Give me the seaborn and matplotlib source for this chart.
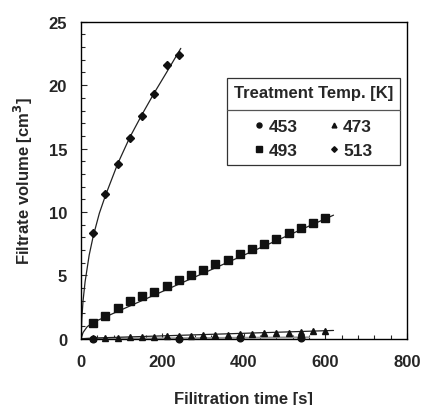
import numpy as np
import pandas as pd
import matplotlib
matplotlib.use("Agg")
import matplotlib.pyplot as plt
from matplotlib.lines import Line2D
import seaborn as sns

# measured points (filtration time [s], filtrate volume [cm3])
t_453 = [30, 240, 390, 540]
v_453 = [0.0, 0.02, 0.05, 0.08]

t_473 = [30, 60, 90, 120, 150, 180, 210, 240, 270, 300,
         330, 360, 390, 420, 450, 480, 510, 540, 570, 600]
v_473 = [0.05, 0.07, 0.10, 0.13, 0.15, 0.17, 0.20, 0.22, 0.25, 0.30,
         0.30, 0.33, 0.35, 0.40, 0.42, 0.45, 0.47, 0.50, 0.58, 0.62]

t_493 = [30, 60, 90, 120, 150, 180, 210, 240, 270, 300,
         330, 360, 390, 420, 450, 480, 510, 540, 570, 600]
v_493 = [1.26, 1.76, 2.42, 3.0, 3.4, 3.73, 4.18, 4.6, 5.0, 5.44,
         5.86, 6.18, 6.65, 7.1, 7.49, 7.89, 8.33, 8.73, 9.1, 9.5]

t_513 = [30, 60, 90, 120, 150, 180, 210, 240]
v_513 = [8.33, 11.4, 13.8, 15.8, 17.6, 19.3, 21.6, 22.4]

# fitted curves
fit_t_453 = [0, 560]
fit_v_453 = [0.0, 0.12]
fit_t_473 = [0, 30, 620]
fit_v_473 = [0.0, 0.06, 0.66]
fit_t_493 = [0, 5, 15, 30, 620]
fit_v_493 = [0.0, 0.5, 0.95, 1.3, 9.75]
fit_t_513 = [0, 2, 5, 10, 20, 30, 45, 60, 90, 120, 150, 180, 210, 245]
fit_v_513 = [0.0, 1.6, 3.0, 4.5, 6.6, 8.1, 9.9, 11.3, 13.8, 15.9, 17.7, 19.4, 21.0, 22.9]

temps = ["453", "473", "493", "513"]
markers = {"453": "o", "473": "^", "493": "s", "513": "D"}
sizes = {"453": 4.8, "473": 4.6, "493": 5.2, "513": 3.8}

pts = pd.concat([
    pd.DataFrame({"t": t, "v": v, "temp": k})
    for k, t, v in [("453", t_453, v_453), ("473", t_473, v_473),
                    ("493", t_493, v_493), ("513", t_513, v_513)]
])
fits = pd.concat([
    pd.DataFrame({"t": t, "v": v, "temp": k})
    for k, t, v in [("473", fit_t_473, fit_v_473),
                    ("493", fit_t_493, fit_v_493), ("513", fit_t_513, fit_v_513)]
])

sns.set_style("ticks")
plt.rcParams["font.family"] = ["Liberation Sans", "DejaVu Sans"]
plt.rcParams["font.weight"] = "bold"

fig = plt.figure(figsize=(4.22, 4.06), dpi=100)
ax = fig.add_axes([0.192, 0.163, 0.772, 0.781])

sns.lineplot(data=fits, x="t", y="v", units="temp", estimator=None,
             color="#222222", lw=0.9, sort=False, ax=ax, legend=False)
ax.plot(fit_t_453, fit_v_453, color="#999999", lw=1.4, zorder=1)

for k in temps:
    d = pts[pts.temp == k]
    ax.plot(d.t, d.v, ls="none", marker=markers[k], ms=sizes[k],
            color="#111111", zorder=3, clip_on=False)

ax.set_xlim(0, 800)
ax.set_ylim(0, 25)
ax.set_xticks([0, 200, 400, 600, 800])
ax.set_yticks([0, 5, 10, 15, 20, 25])
ax.set_xticks(np.arange(0, 801, 40), minor=True)
ax.set_yticks(np.arange(0, 26, 1), minor=True)
ax.tick_params(which="both", direction="in", labelsize=12, width=0.8)
ax.tick_params(which="major", length=4)
ax.tick_params(which="minor", length=3)
ax.tick_params(axis="x", pad=11)
ax.tick_params(axis="y", pad=10)
for s in ax.spines.values():
    s.set_linewidth(1.0)
    s.set_color("black")

ax.set_xlabel("Filitration time [s]", fontsize=12, fontweight="bold", labelpad=16)
ax.set_ylabel("Filtrate volume [cm$^3$]", fontsize=12, fontweight="bold", labelpad=10)

handles = [Line2D([], [], ls="none", marker=markers[k], ms=sizes[k] * 0.75,
                  color="#111111") for k in ["453", "493", "473", "513"]]
leg = ax.legend(handles, ["453", "493", "473", "513"], ncol=2,
                title="Treatment Temp. [K]", loc="upper right",
                bbox_to_anchor=(0.98, 0.823), borderaxespad=0, fontsize=12.5,
                title_fontproperties={"weight": "bold", "size": 12},
                frameon=True, fancybox=False, edgecolor="black",
                handlelength=0.5, handletextpad=0.3, columnspacing=1.8,
                borderpad=0.4, labelspacing=0.5)
leg.get_frame().set_linewidth(0.9)
leg._legend_box.align = "center"
leg._legend_box.sep = 14

fig.canvas.draw()
r = fig.canvas.get_renderer()
lb = leg.get_window_extent(r)
tb = leg.get_title().get_window_extent(r)
hb = leg._legend_handle_box.get_window_extent(r)
ysep = 0.5 * (tb.y0 + hb.y1)
inv = fig.transFigure.inverted()
(x0, y0) = inv.transform((lb.x0, ysep))
(x1, _) = inv.transform((lb.x1, ysep))
fig.add_artist(Line2D([x0, x1], [y0, y0], color="#555555", lw=0.9))

fig.savefig("out.png", dpi=100)
